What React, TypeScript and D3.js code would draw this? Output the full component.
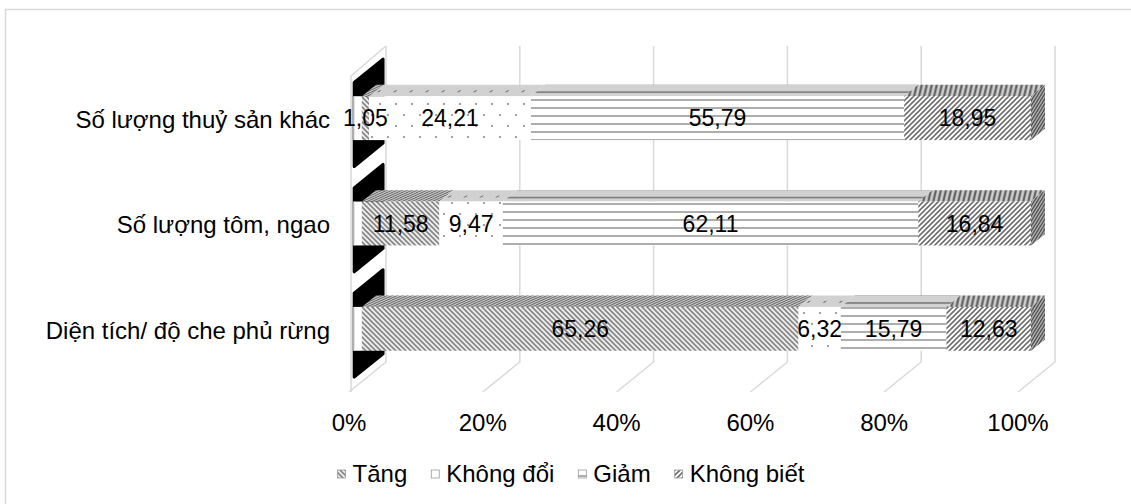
import React from "react";
import * as d3 from "d3";

const categories = ["Số lượng thuỷ sản khác", "Số lượng tôm, ngao", "Diện tích/ độ che phủ rừng"];
const seriesNames = ["Tăng", "Không đổi", "Giảm", "Không biết"];
const tang = [1.05, 11.58, 65.26];
const khongDoi = [24.21, 9.47, 6.32];
const giam = [55.79, 62.11, 15.79];
const khongBiet = [18.95, 16.84, 12.63];
const tickValues = [0, 20, 40, 60, 80, 100];

const seriesValues = [tang, khongDoi, giam, khongBiet];
const patternIds = ["pTang", "pKhongDoi", "pGiam", "pKhongBiet"];

const W = 1131;
const H = 504;
const FONT = "'Liberation Sans', Arial, sans-serif";
const FS = 24;
const FS_DATA = 23;

// 3D oblique geometry
const DX = 37;
const DY = 30;
const Z0 = 0.35;
const Z1 = 0.73;
const KX = DX / DY;

const x = d3.scaleLinear().domain([0, 100]).range([349, 1018]);
const y = d3.scaleBand<string>().domain(categories).range([76, 392]).paddingInner(0).paddingOuter(0);
const barH = y.step() / 2.4;

const P = (v: number, py: number, z: number): [number, number] => [x(v) + z * DX, py - z * DY];

function fmt(v: number) {
  return v.toFixed(2).replace(".", ",");
}

export default function App() {
  const stack = d3.stack<number>().keys(d3.range(seriesNames.length) as any).value((i: number, k: any) => seriesValues[k][i]);
  const stacked = stack(d3.range(categories.length));

  const depthPx = (Z1 - Z0) * DY;

  return (
    <svg width={W} height={H} style={{ position: "absolute", left: 0, top: 0, background: "#fff" }} fontFamily={FONT}>
      <defs>
        <pattern id="pTang" width={5} height={5} patternUnits="userSpaceOnUse">
          <rect width={5} height={5} fill="#eeeeee" />
          <path d="M0,0 L5,5 M-1,4 L1,6 M4,-1 L6,1" stroke="#858585" strokeWidth={1.6} />
        </pattern>
        <pattern id="pKhongDoi" width={16} height={22} patternUnits="userSpaceOnUse">
          <rect width={16} height={22} fill="#fff" />
          <circle cx={4} cy={5} r={1.1} fill="#8c8c8c" />
          <circle cx={12} cy={16} r={1.1} fill="#8c8c8c" />
        </pattern>
        <pattern id="pGiam" width={8} height={8} patternUnits="userSpaceOnUse">
          <rect width={8} height={8} fill="#fff" />
          <line x1={0} x2={8} y1={4} y2={4} stroke="#9a9a9a" strokeWidth={1.6} />
        </pattern>
        <pattern id="pKhongBiet" width={5} height={5} patternUnits="userSpaceOnUse">
          <rect width={5} height={5} fill="#fff" />
          <path d="M0,5 L5,0 M-1,1 L1,-1 M4,6 L6,4" stroke="#6e6e6e" strokeWidth={1.6} />
        </pattern>
      </defs>

      {/* frame */}
      <rect x={5.5} y={9.5} width={1300} height={700} fill="#fff" stroke="#d9d9d9" strokeWidth={1.5} />

      {/* walls & gridlines */}
      <g stroke="#d9d9d9" strokeWidth={1.5} fill="none">
        {tickValues.map((t) => {
          const [fx, fy] = P(t, y.range()[1], 0);
          const [bx, by] = P(t, y.range()[1], 1);
          const [, ty] = P(t, y.range()[0], 1);
          return <path key={t} d={`M${fx},${fy} L${bx},${by} L${bx},${ty}`} />;
        })}
        {(() => {
          const a = P(0, y.range()[1], 0);
          const b = P(0, y.range()[0], 0);
          const c = P(0, y.range()[0], 1);
          return <path d={`M${a[0] + 2},${a[1]} L${b[0] + 2},${b[1]} L${c[0]},${c[1]}`} />;
        })()}
      </g>

      {/* black end-caps */}
      {categories.map((cat) => {
        const c = (y(cat) as number) + y.step() / 2;
        const pts = [P(0, c - 42, 0.14), P(0, c - 42, 0.92), P(0, c + 42, 0.92), P(0, c + 42, 0.14)];
        return (
          <polygon key={cat} points={pts.map((p) => p.join(",")).join(" ")} fill="#000" stroke="#000" strokeWidth={3} strokeLinejoin="round" />
        );
      })}

      {/* bars */}
      {categories.map((cat, i) => {
        const c = (y(cat) as number) + y.step() / 2;
        const yTop = c - barH / 2;
        const [fx0, fyTop] = P(0, yTop, Z0);
        return (
          <g key={cat}>
            <rect x={fx0 - 8} y={fyTop} width={8} height={barH} fill="#fff" />
            <line x1={fx0 - 8} x2={fx0 - 8} y1={fyTop} y2={fyTop + barH} stroke="#d9d9d9" strokeWidth={1.5} />
            {stacked.map((s, k) => {
              const [a, b] = s[i];
              const [ox, oy] = P(a, yTop, Z0);
              const w = x(b) - x(a);
              return (
                <g key={k}>
                  <g transform={`matrix(1,0,${KX},-1,${ox},${oy})`}>
                    <rect x={0} y={0} width={w} height={depthPx} fill={`url(#${patternIds[k]})`} />
                    <rect x={0} y={0} width={w} height={depthPx} fill="#000" opacity={0.18} />
                  </g>
                  <rect x={ox} y={oy} width={w} height={barH} fill={`url(#${patternIds[k]})`} />
                </g>
              );
            })}
            {(() => {
              const last = stacked.length - 1;
              const [ox, oy] = P(stacked[last][i][1], yTop, Z0);
              return (
                <g transform={`matrix(${KX},-1,0,1,${ox},${oy})`}>
                  <rect x={0} y={0} width={depthPx} height={barH} fill={`url(#${patternIds[last]})`} />
                  <rect x={0} y={0} width={depthPx} height={barH} fill="#000" opacity={0.3} />
                </g>
              );
            })()}
            {stacked.map((s, k) => {
              const [a, b] = s[i];
              const [lx, ly] = P((a + b) / 2, c, Z0);
              return (
                <text key={k} x={lx} y={ly} dy="0.35em" textAnchor="middle" fontSize={FS_DATA} fill="#000">
                  {fmt(seriesValues[k][i])}
                </text>
              );
            })}
            <text x={330} y={c - 9} dy="0.35em" textAnchor="end" fontSize={FS} fill="#000">
              {cat}
            </text>
          </g>
        );
      })}

      {/* value axis labels */}
      {tickValues.map((t) => (
        <text key={t} x={x(t)} y={423} dy="0.35em" textAnchor="middle" fontSize={FS} fill="#000">
          {t + "%"}
        </text>
      ))}

      {/* legend */}
      {(() => {
        const canvas = document.createElement("canvas");
        const ctx = canvas.getContext("2d")!;
        ctx.font = `${FS}px 'Liberation Sans', Arial, sans-serif`;
        const marker = 8;
        const gapM = 7;
        const gapItem = 24;
        const widths = seriesNames.map((n) => marker + gapM + ctx.measureText(n).width);
        const total = d3.sum(widths) + gapItem * (seriesNames.length - 1);
        let cx = 571 - total / 2;
        return seriesNames.map((n, k) => {
          const x0 = cx;
          cx += widths[k] + gapItem;
          return (
            <g key={n}>
              <rect x={x0} y={474 - marker / 2} width={marker} height={marker} fill={`url(#${patternIds[k]})`} stroke="#999" strokeWidth={0.8} />
              <text x={x0 + marker + gapM} y={474} dy="0.35em" fontSize={FS} fill="#000">
                {n}
              </text>
            </g>
          );
        });
      })()}
    </svg>
  );
}
